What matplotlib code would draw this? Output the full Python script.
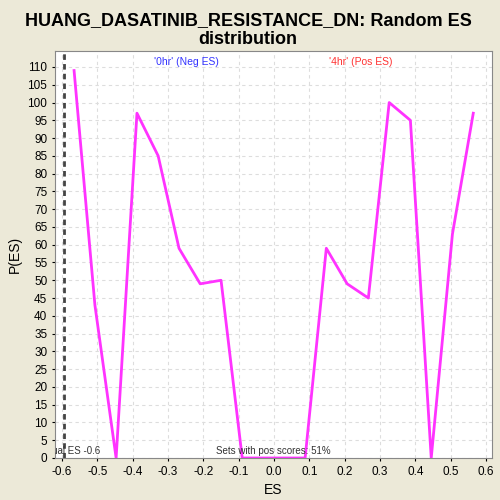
import matplotlib
matplotlib.use("Agg")
import matplotlib.pyplot as plt
import numpy as np

plt.rcParams['font.family'] = ['Liberation Sans', 'DejaVu Sans']

es = [-0.566, -0.507, -0.447, -0.388, -0.328, -0.269, -0.209, -0.150, -0.090,
      -0.031, 0.029, 0.088, 0.148, 0.207, 0.267, 0.326, 0.386, 0.445, 0.505, 0.564]
pes = [109, 43, 0, 97, 85, 59, 49, 50, 0, 0, 0, 0, 59, 49, 45, 100, 95, 0, 63, 97]
actual_es = -0.594
xticks = [-0.6, -0.5, -0.4, -0.3, -0.2, -0.1, 0.0, 0.1, 0.2, 0.3, 0.4, 0.5, 0.6]
yticks = list(range(0, 115, 5))

fig = plt.figure(figsize=(5, 5), dpi=100, facecolor="#ECE9D8")
ax = fig.add_axes([0.11, 0.084, 0.874, 0.814])
ax.set_facecolor("white")
ax.plot(es, pes, color="#FF33FF", lw=2)
ax.axvline(actual_es, color="#444444", lw=2, ls=(0, (2, 1.5)))
ax.set_xlim(-0.62, 0.617)
ax.set_ylim(0, 114.5)
ax.set_xticks(xticks)
ax.set_xticklabels([f"{t:.1f}" for t in xticks])
ax.set_yticks(yticks)
ax.tick_params(labelsize=8.5, length=2)
ax.grid(True, color="#DDDDDD", ls=(0, (3, 3)), lw=0.8)
for s in ax.spines.values():
    s.set_color("#888888")
ax.set_xlabel("ES", fontsize=10)
ax.set_ylabel("P(ES)", fontsize=10)
fig.text(0.496, 0.975, "HUANG_DASATINIB_RESISTANCE_DN: Random ES\ndistribution",
         fontsize=13, fontweight="bold", ha="center", va="top", linespacing=1.1)
ax.text(0.30, 0.985, "'0hr' (Neg ES)", transform=ax.transAxes, color="#3333FF",
        fontsize=7.5, ha="center", va="top")
ax.text(0.70, 0.985, "'4hr' (Pos ES)", transform=ax.transAxes, color="#FF3333",
        fontsize=7.5, ha="center", va="top")
ax.text(0.5, 0.005, "Sets with pos scores: 51%", transform=ax.transAxes,
        color="#333333", fontsize=7, ha="center", va="bottom")
t = ax.text(-0.668, 0.5, "Actual ES -0.6", color="#333333", fontsize=7,
            ha="left", va="bottom")
t.set_clip_on(True)
fig.savefig("out.png", dpi=100, facecolor=fig.get_facecolor())
